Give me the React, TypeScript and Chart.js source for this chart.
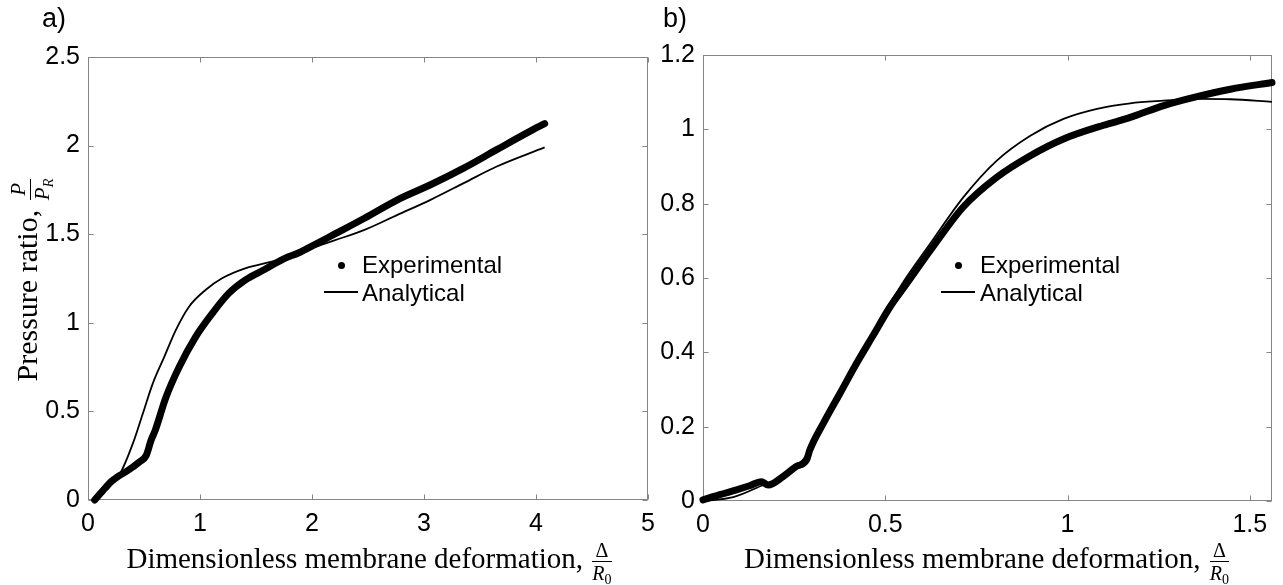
import React, { useEffect, useRef } from 'react';
import { Chart, registerables } from 'chart.js';

Chart.register(...registerables);

// ---------- data ----------
const seriesNames = ['Experimental', 'Analytical'];

// panel a)
const aExpX = [0.06, 0.10, 0.15, 0.20, 0.24, 0.283, 0.34, 0.40, 0.46, 0.52, 0.563, 0.60, 0.696, 0.814, 0.961, 1.109, 1.256, 1.403, 1.58, 1.757, 1.878, 1.99, 2.2, 2.468, 2.763, 3.058, 3.354, 3.649, 3.944, 4.077];
const aExpY = [0.0, 0.03, 0.065, 0.10, 0.12, 0.139, 0.16, 0.186, 0.215, 0.252, 0.337, 0.393, 0.58, 0.751, 0.921, 1.053, 1.166, 1.241, 1.302, 1.364, 1.394, 1.43, 1.50, 1.59, 1.694, 1.779, 1.873, 1.977, 2.08, 2.124];
const aAnaX = [0.06, 0.283, 0.40, 0.489, 0.578, 0.681, 0.784, 0.902, 1.049, 1.197, 1.403, 1.639, 1.815, 1.992, 2.2, 2.468, 2.763, 3.058, 3.354, 3.649, 4.077];
const aAnaY = [0.0, 0.145, 0.318, 0.487, 0.657, 0.808, 0.959, 1.091, 1.185, 1.251, 1.307, 1.345, 1.377, 1.42, 1.465, 1.524, 1.609, 1.694, 1.788, 1.882, 1.99];

// panel b)
const bExpX = [0, 0.046, 0.092, 0.128, 0.16, 0.179, 0.22, 0.256, 0.284, 0.293, 0.33, 0.376, 0.421, 0.467, 0.513, 0.559, 0.628, 0.714, 0.806, 0.898, 0.989, 1.099, 1.117, 1.172, 1.264, 1.355, 1.447, 1.561];
const bExpY = [0.003, 0.017, 0.030, 0.041, 0.052, 0.043, 0.066, 0.093, 0.11, 0.137, 0.209, 0.29, 0.37, 0.446, 0.522, 0.585, 0.68, 0.791, 0.871, 0.929, 0.974, 1.011, 1.016, 1.032, 1.064, 1.088, 1.108, 1.126];
const bAnaX = [0, 0.083, 0.165, 0.22, 0.266, 0.293, 0.33, 0.40, 0.45, 0.50, 0.55, 0.623, 0.714, 0.806, 0.898, 0.989, 1.081, 1.172, 1.264, 1.355, 1.447, 1.561];
const bAnaY = [0, 0.0105, 0.043, 0.066, 0.101, 0.137, 0.205, 0.33, 0.42, 0.51, 0.59, 0.692, 0.817, 0.916, 0.983, 1.028, 1.055, 1.07, 1.077, 1.082, 1.081, 1.074];

// ticks
const aXTicks = [0, 1, 2, 3, 4, 5];
const aXTickLabels = ['0', '1', '2', '3', '4', '5'];
const aYTicks = [0, 0.5, 1, 1.5, 2, 2.5];
const aYTickLabels = ['0', '0.5', '1', '1.5', '2', '2.5'];
const bXTicks = [0, 0.5, 1, 1.5];
const bXTickLabels = ['0', '0.5', '1', '1.5'];
const bYTicks = [0, 0.2, 0.4, 0.6, 0.8, 1, 1.2];
const bYTickLabels = ['0', '0.2', '0.4', '0.6', '0.8', '1', '1.2'];

const xTitleText = 'Dimensionless membrane deformation,';
const yTitleText = 'Pressure ratio,';
const panelLabels = ['a)', 'b)'];

// ---------- helpers ----------
const SANS = "'Liberation Sans', Arial, Helvetica, sans-serif";
const SERIF = "'Liberation Serif', 'Times New Roman', serif";

const framePlugin = {
  id: 'matlabFrame',
  beforeDatasetsDraw(chart: any) {
    const { ctx, chartArea: a, scales } = chart;
    const L = Math.round(a.left) + 0.5;
    const R = Math.round(a.right) - 0.5;
    const T = Math.round(a.top) + 0.5;
    const B = Math.round(a.bottom) - 0.5;
    const len = 5;
    ctx.save();
    ctx.strokeStyle = '#858585';
    ctx.lineWidth = 1;
    ctx.strokeRect(L, T, R - L, B - T);
    ctx.beginPath();
    scales.x.ticks.forEach((t: any) => {
      const px = Math.round(scales.x.getPixelForValue(t.value)) + 0.5;
      ctx.moveTo(px, B); ctx.lineTo(px, B - len);
      ctx.moveTo(px, T); ctx.lineTo(px, T + len);
    });
    scales.y.ticks.forEach((t: any) => {
      const py = Math.round(scales.y.getPixelForValue(t.value)) + 0.5;
      ctx.moveTo(L, py); ctx.lineTo(L + len, py);
      ctx.moveTo(R, py); ctx.lineTo(R - len, py);
    });
    ctx.stroke();
    ctx.restore();
  },
};

function pts(xs: number[], ys: number[]) {
  return xs.map((x, i) => ({ x, y: ys[i] }));
}

function makeConfig(p: any) {
  return {
    type: 'line',
    data: {
      datasets: [
        {
          label: seriesNames[1],
          data: pts(p.anaX, p.anaY),
          borderColor: '#000',
          borderWidth: 1.8,
          pointRadius: 0,
          cubicInterpolationMode: 'monotone',
          fill: false,
          clip: false,
          order: 0,
        },
        {
          label: seriesNames[0],
          data: pts(p.expX, p.expY),
          borderColor: '#000',
          borderWidth: 7,
          borderCapStyle: 'round',
          borderJoinStyle: 'round',
          pointRadius: 0,
          cubicInterpolationMode: 'monotone',
          fill: false,
          clip: false,
          order: 1,
        },
      ],
    },
    options: {
      responsive: false,
      animation: false,
      events: [],
      layout: { padding: p.pad },
      plugins: { legend: { display: false }, tooltip: { enabled: false }, title: { display: false } },
      scales: {
        x: {
          type: 'linear',
          min: 0,
          max: p.xMax,
          grid: { display: false, drawTicks: false },
          border: { display: false },
          afterBuildTicks: (s: any) => { s.ticks = p.xTicks.map((v: number) => ({ value: v })); },
          afterFit: (s: any) => { s.height = 40; },
          ticks: {
            padding: 9,
            color: '#000',
            autoSkip: false,
            maxRotation: 0,
            font: { family: SANS, size: 25 },
            callback: (_v: any, i: number) => p.xLabels[i],
          },
        },
        y: {
          type: 'linear',
          min: 0,
          max: p.yMax,
          grid: { display: false, drawTicks: false },
          border: { display: false },
          afterBuildTicks: (s: any) => { s.ticks = p.yTicks.map((v: number) => ({ value: v })); },
          afterFit: (s: any) => { s.width = p.yAxisWidth; },
          ticks: {
            padding: 8,
            color: '#000',
            autoSkip: false,
            font: { family: SANS, size: 25 },
            callback: (_v: any, i: number) => p.yLabels[i],
          },
        },
      },
    },
    plugins: [framePlugin],
  } as any;
}

function Frac({ num, den, size }: { num: React.ReactNode; den: React.ReactNode; size: number }) {
  return (
    <span
      style={{
        display: 'inline-flex',
        flexDirection: 'column',
        alignItems: 'center',
        verticalAlign: 'middle',
        fontSize: size,
        lineHeight: 1,
        margin: '0 2px',
      }}
    >
      <span style={{ padding: '0 2px' }}>{num}</span>
      <span style={{ alignSelf: 'stretch', borderTop: '1px solid #000', margin: '1px 0 1px 0' }} />
      <span>{den}</span>
    </span>
  );
}

const Sub = ({ children, italic }: { children: React.ReactNode; italic?: boolean }) => (
  <span style={{ fontSize: '0.7em', position: 'relative', top: '0.25em', fontStyle: italic ? 'italic' : 'normal' }}>
    {children}
  </span>
);

function XTitle({ left, width }: { left: number; width: number }) {
  return (
    <div
      style={{
        position: 'absolute',
        left,
        top: 540,
        width,
        textAlign: 'center',
        whiteSpace: 'nowrap',
        fontFamily: SERIF,
        fontSize: 29,
        lineHeight: '31px',
        color: '#000',
      }}
    >
      {xTitleText}{' '}
      <Frac num={'Δ'} den={<span><i>R</i><Sub>0</Sub></span>} size={20} />
    </div>
  );
}

function Legend({ dotX, lineX, textX }: { dotX: number; lineX: number; textX: number }) {
  const txt: React.CSSProperties = {
    position: 'absolute',
    left: textX,
    fontFamily: SANS,
    fontSize: 24,
    lineHeight: '24px',
    whiteSpace: 'nowrap',
    color: '#000',
  };
  return (
    <>
      <div style={{ position: 'absolute', left: dotX - 3.5, top: 265 - 3.5, width: 7, height: 7, borderRadius: '50%', background: '#000' }} />
      <div style={{ ...txt, top: 253 }}>{seriesNames[0]}</div>
      <div style={{ position: 'absolute', left: lineX, top: 291, width: 34, height: 2, background: '#000' }} />
      <div style={{ ...txt, top: 281 }}>{seriesNames[1]}</div>
    </>
  );
}

export default function App() {
  const leftRef = useRef<HTMLCanvasElement>(null);
  const rightRef = useRef<HTMLCanvasElement>(null);

  useEffect(() => {
    const charts: Chart[] = [];
    if (leftRef.current) {
      charts.push(
        new Chart(
          leftRef.current,
          makeConfig({
            expX: aExpX, expY: aExpY, anaX: aAnaX, anaY: aAnaY,
            xMax: 5, yMax: 2.5,
            xTicks: aXTicks, xLabels: aXTickLabels, yTicks: aYTicks, yLabels: aYTickLabels,
            pad: { left: 0, top: 57, right: 12, bottom: 45 },
            yAxisWidth: 88,
          })
        )
      );
    }
    if (rightRef.current) {
      charts.push(
        new Chart(
          rightRef.current,
          makeConfig({
            expX: bExpX, expY: bExpY, anaX: bAnaX, anaY: bAnaY,
            xMax: 1.561, yMax: 1.2,
            xTicks: bXTicks, xLabels: bXTickLabels, yTicks: bYTicks, yLabels: bYTickLabels,
            pad: { left: 0, top: 55, right: 11, bottom: 44 },
            yAxisWidth: 48,
          })
        )
      );
    }
    return () => charts.forEach((c) => c.destroy());
  }, []);

  return (
    <div
      style={{
        position: 'fixed',
        left: 0,
        top: 0,
        width: 1283,
        height: 585,
        background: '#fff',
        overflow: 'hidden',
      }}
    >
      <canvas ref={leftRef} width={664} height={585} style={{ position: 'absolute', left: 0, top: 0, width: 664, height: 585 }} />
      <canvas ref={rightRef} width={628} height={585} style={{ position: 'absolute', left: 655, top: 0, width: 628, height: 585 }} />

      <div style={{ position: 'absolute', left: 42, top: 5, fontFamily: SANS, fontSize: 27, lineHeight: '27px', color: '#000' }}>{panelLabels[0]}</div>
      <div style={{ position: 'absolute', left: 663, top: 5, fontFamily: SANS, fontSize: 27, lineHeight: '27px', color: '#000' }}>{panelLabels[1]}</div>

      {/* y-axis title of panel a) */}
      <div
        style={{
          position: 'absolute',
          left: 24 - 221,
          top: 279 - 16,
          width: 442,
          height: 32,
          transform: 'rotate(-90deg)',
          transformOrigin: '50% 50%',
          textAlign: 'center',
          whiteSpace: 'nowrap',
          fontFamily: SERIF,
          fontSize: 30,
          lineHeight: '32px',
          color: '#000',
        }}
      >
        {yTitleText}{' '}
        <Frac num={<i>P</i>} den={<span><i>P</i><Sub italic>R</Sub></span>} size={21} />
      </div>

      <XTitle left={88} width={564} />
      <XTitle left={703} width={569} />

      <Legend dotX={341} lineX={324} textX={362} />
      <Legend dotX={958} lineX={941} textX={980} />
    </div>
  );
}
